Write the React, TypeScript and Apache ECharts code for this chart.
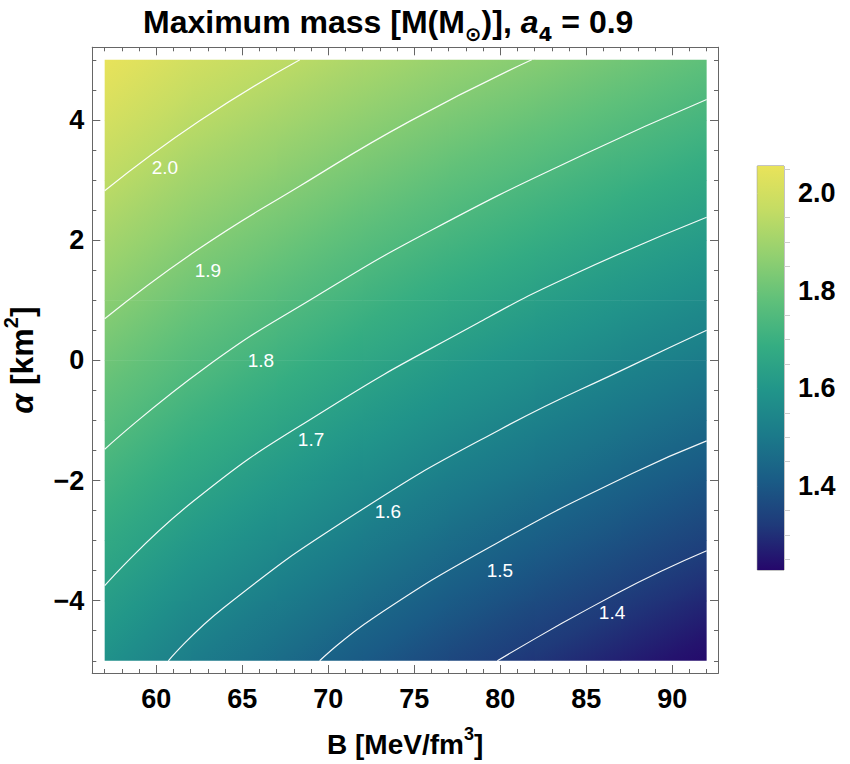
import { useEffect, useRef } from "react";
import * as echarts from "echarts";

// B columns and alpha rows of the mass table
const bColumns = [57, 62, 67, 72, 77, 82, 87, 92];
const alphaRows = [
  5, 4.75, 4.5, 4.25, 4, 3.75, 3.5, 3.25, 3, 2.75, 2.5, 2.25, 2, 1.75, 1.5, 1.25, 1, 0.75, 0.5, 0.25, 0,
  -0.25, -0.5, -0.75, -1, -1.25, -1.5, -1.75, -2, -2.25, -2.5, -2.75, -3, -3.25, -3.5, -3.75, -4, -4.25, -4.5, -4.75, -5,
];
const massB57 = [2.106, 2.094, 2.082, 2.07, 2.058, 2.045, 2.033, 2.021, 2.009, 1.997, 1.985, 1.973, 1.961, 1.95, 1.938, 1.926, 1.915, 1.903, 1.891, 1.88, 1.868, 1.857, 1.845, 1.834, 1.822, 1.811, 1.799, 1.788, 1.777, 1.766, 1.755, 1.744, 1.733, 1.722, 1.711, 1.7, 1.689, 1.678, 1.667, 1.657, 1.646];
const massB62 = [2.049, 2.037, 2.025, 2.014, 2.002, 1.99, 1.978, 1.967, 1.955, 1.943, 1.931, 1.92, 1.908, 1.896, 1.884, 1.873, 1.861, 1.849, 1.838, 1.826, 1.814, 1.802, 1.791, 1.779, 1.767, 1.755, 1.744, 1.732, 1.72, 1.708, 1.697, 1.685, 1.673, 1.661, 1.65, 1.638, 1.626, 1.614, 1.603, 1.591, 1.579];
const massB67 = [2.011, 1.999, 1.987, 1.975, 1.963, 1.951, 1.939, 1.927, 1.914, 1.902, 1.89, 1.878, 1.866, 1.854, 1.842, 1.83, 1.817, 1.805, 1.793, 1.781, 1.769, 1.757, 1.745, 1.733, 1.721, 1.709, 1.696, 1.684, 1.672, 1.66, 1.648, 1.636, 1.624, 1.612, 1.599, 1.587, 1.575, 1.563, 1.551, 1.539, 1.527];
const massB72 = [1.972, 1.96, 1.948, 1.935, 1.923, 1.91, 1.898, 1.886, 1.873, 1.861, 1.848, 1.836, 1.823, 1.811, 1.799, 1.786, 1.774, 1.761, 1.749, 1.736, 1.724, 1.712, 1.699, 1.687, 1.674, 1.662, 1.649, 1.637, 1.625, 1.612, 1.6, 1.587, 1.575, 1.562, 1.55, 1.538, 1.525, 1.513, 1.5, 1.488, 1.475];
const massB77 = [1.936, 1.923, 1.911, 1.898, 1.885, 1.872, 1.86, 1.847, 1.834, 1.821, 1.809, 1.796, 1.783, 1.77, 1.758, 1.745, 1.732, 1.719, 1.707, 1.694, 1.681, 1.668, 1.656, 1.643, 1.63, 1.617, 1.605, 1.592, 1.579, 1.566, 1.554, 1.541, 1.528, 1.515, 1.503, 1.49, 1.477, 1.464, 1.452, 1.439, 1.426];
const massB82 = [1.905, 1.892, 1.879, 1.866, 1.853, 1.84, 1.827, 1.814, 1.8, 1.787, 1.774, 1.761, 1.748, 1.735, 1.722, 1.709, 1.696, 1.683, 1.67, 1.657, 1.644, 1.631, 1.618, 1.605, 1.592, 1.579, 1.566, 1.553, 1.54, 1.527, 1.514, 1.501, 1.488, 1.475, 1.461, 1.448, 1.435, 1.422, 1.409, 1.396, 1.383];
const massB87 = [1.871, 1.858, 1.844, 1.831, 1.818, 1.805, 1.792, 1.778, 1.765, 1.752, 1.739, 1.726, 1.713, 1.699, 1.686, 1.673, 1.66, 1.646, 1.633, 1.62, 1.607, 1.594, 1.581, 1.567, 1.554, 1.541, 1.528, 1.515, 1.501, 1.488, 1.475, 1.462, 1.449, 1.435, 1.422, 1.409, 1.396, 1.383, 1.369, 1.356, 1.343];
const massB92 = [1.835, 1.822, 1.809, 1.796, 1.783, 1.77, 1.757, 1.745, 1.733, 1.72, 1.707, 1.693, 1.68, 1.667, 1.653, 1.64, 1.627, 1.613, 1.6, 1.587, 1.573, 1.56, 1.546, 1.533, 1.519, 1.505, 1.492, 1.478, 1.464, 1.451, 1.437, 1.423, 1.41, 1.396, 1.382, 1.369, 1.355, 1.341, 1.328, 1.314, 1.3];
const massColumns = [massB57, massB62, massB67, massB72, massB77, massB82, massB87, massB92];

// contour polylines as [B, alpha]
const contour20 = [[57, 2.82], [62.5, 3.98], [68.35, 5]];
const contour19 = [[57, 0.69], [62.35, 1.83], [68.35, 2.9], [74.75, 3.98], [81.83, 5]];
const contour18 = [[57, -1.48], [62.9, -0.11], [69.33, 1.07], [76.1, 2.18], [84.83, 3.42], [92, 4.34]];
const contour17 = [[57, -3.75], [62.13, -2.35], [69.68, -0.855], [78.7, 0.62], [84.2, 1.42], [92, 2.38]];
const contour16 = [[60.7, -5], [63.9, -4.12], [71.6, -2.55], [80, -1.15], [87.7, -0.08], [92, 0.5]];
const contour15 = [[69.5, -5], [72.6, -4.29], [80, -3.01], [87.7, -1.88], [92, -1.34]];
const contour14 = [[79.83, -5], [86.77, -3.88], [92, -3.17]];
const contours = [contour20, contour19, contour18, contour17, contour16, contour15, contour14];

// contour labels: [B, alpha, text]
const contourLabels = [
  [60.5, 3.2, "2.0"],
  [63, 1.49, "1.9"],
  [66.08, -0.01, "1.8"],
  [69, -1.31, "1.7"],
  [73.47, -2.51, "1.6"],
  [79.98, -3.5, "1.5"],
  [86.5, -4.2, "1.4"],
];

const xMajor = [60, 65, 70, 75, 80, 85, 90];
const xMinor = [57, 58, 59, 61, 62, 63, 64, 66, 67, 68, 69, 71, 72, 73, 74, 76, 77, 78, 79, 81, 82, 83, 84, 86, 87, 88, 89, 91, 92];
const yMajor = [-4, -2, 0, 2, 4];
const yMinor = [-5, -4.5, -3.5, -3, -2.5, -1.5, -1, -0.5, 0.5, 1, 1.5, 2.5, 3, 3.5, 4.5, 5];
const barMajor = [1.4, 1.6, 1.8, 2.0];
const barMinor = [1.25, 1.3, 1.35, 1.45, 1.5, 1.55, 1.65, 1.7, 1.75, 1.85, 1.9, 1.95, 2.05];

const viridis = ["#25076b", "#1f3a7a", "#1a5c86", "#1b7a8a", "#21958a", "#35ad82", "#5fc07a", "#92d070", "#c3dc64", "#e9e35a"];
const fieldMin = 1.3;
const fieldMax = 2.106;
const font = "'Liberation Sans', Arial, sans-serif";

const colorAt = (v: number) =>
  echarts.color.lerp(Math.min(1, Math.max(0, (v - fieldMin) / (fieldMax - fieldMin))), viridis);

// table cells, every fourth alpha row
const rowStep = 4;
const cells: number[][] = [];
for (let r = 0; r + rowStep < alphaRows.length; r += rowStep) {
  for (let c = 0; c + 1 < bColumns.length; c++) cells.push([c, r]);
}

const tickAxis = (values: number[], len: number, pos: string, range: number[], gridIndex = 0, line = "#666") => ({
  type: "value",
  gridIndex,
  position: pos,
  min: range[0],
  max: range[1],
  axisLine: { show: true, onZero: false, lineStyle: { color: "#666", width: 1 } },
  axisTick: { show: true, inside: true, length: len, customValues: values, lineStyle: { color: line, width: 1 } },
  axisLabel: { show: false },
  splitLine: { show: false },
  minorTick: { show: false },
});

export default function App() {
  const ref = useRef<HTMLDivElement>(null);

  useEffect(() => {
    if (!ref.current) return;
    const chart = echarts.init(ref.current, null, { renderer: "svg" });

    const xRange = [56.28, 92.66];
    const yRange = [-5.203, 5.208];
    const barRange = [1.228, 2.056];
    const labelStyle = { fontFamily: font, fontWeight: "bold", fontSize: 27, color: "#000" };

    const xLabels = tickAxis(xMajor, 8, "bottom", xRange) as any;
    xLabels.axisLabel = { ...labelStyle, show: true, margin: 12, customValues: xMajor };
    xLabels.name = "{a|B [MeV/fm}{s|3}{a|]}";
    xLabels.nameLocation = "middle";
    xLabels.nameGap = 52;
    xLabels.nameTextStyle = {
      rich: {
        a: { fontFamily: font, fontWeight: "bold", fontSize: 28, lineHeight: 38, color: "#000" },
        s: { fontFamily: font, fontWeight: "bold", fontSize: 18, lineHeight: 38, verticalAlign: "top", color: "#000" },
      },
    };

    const yLabels = tickAxis(yMajor, 8, "left", yRange) as any;
    yLabels.axisLabel = {
      ...labelStyle,
      show: true,
      margin: 8,
      customValues: yMajor,
      formatter: (v: number) => String(v).replace("-", "\u2212"),
    };
    yLabels.name = "{i|\u03b1 }{a|[km}{s|2}{a|]}";
    yLabels.nameLocation = "middle";
    yLabels.nameRotate = 90;
    yLabels.nameGap = 49;
    yLabels.nameTextStyle = {
      rich: {
        a: { fontFamily: font, fontWeight: "bold", fontSize: 32, lineHeight: 42, color: "#000" },
        i: { fontFamily: font, fontWeight: "bold", fontStyle: "italic", fontSize: 32, lineHeight: 42, color: "#000" },
        s: { fontFamily: font, fontWeight: "bold", fontSize: 20, lineHeight: 42, verticalAlign: "top", color: "#000" },
      },
    };

    const barMajorAxis = tickAxis(barMajor, 9, "right", barRange, 1, "#ccc") as any;
    barMajorAxis.axisLine = { show: false };
    barMajorAxis.axisTick.inside = false;
    barMajorAxis.axisLabel = {
      ...labelStyle,
      show: true,
      margin: 14,
      customValues: barMajor,
      formatter: (v: number) => v.toFixed(1),
    };
    const barMinorAxis = tickAxis(barMinor, 6, "right", barRange, 1, "#ccc") as any;
    barMinorAxis.axisLine = { show: false };
    barMinorAxis.axisTick.inside = false;

    chart.setOption({
      animation: false,
      title: {
        left: 138,
        top: -5,
        text: "{a|Maximum mass [M(M}{s|\u2299}{a|)], }{i|a}{s|4}{a| = 0.9}",
        textStyle: {
          rich: {
            a: { fontFamily: font, fontWeight: "bold", fontSize: 32, lineHeight: 44, color: "#000" },
            i: { fontFamily: font, fontWeight: "bold", fontStyle: "italic", fontSize: 32, lineHeight: 44, color: "#000" },
            s: { fontFamily: "'DejaVu Sans', " + font, fontWeight: "bold", fontSize: 20, lineHeight: 44, verticalAlign: "bottom", color: "#000" },
          },
        },
      },
      grid: [
        { left: 92.3, top: 47.3, width: 625.7, height: 625.7, show: false, outerBoundsMode: "none" },
        { left: 757.3, top: 166, width: 26.7, height: 404, show: true, borderColor: "#888", borderWidth: 1, backgroundColor: "transparent", outerBoundsMode: "none" },
      ],
      xAxis: [
        xLabels,
        tickAxis(xMinor, 4, "bottom", xRange),
        tickAxis(xMajor, 8, "top", xRange),
        tickAxis(xMinor, 4, "top", xRange),
        { type: "value", gridIndex: 1, min: 0, max: 1, show: false },
      ],
      yAxis: [
        yLabels,
        tickAxis(yMinor, 4, "left", yRange),
        tickAxis(yMajor, 8, "right", yRange),
        tickAxis(yMinor, 4, "right", yRange),
        barMajorAxis,
        barMinorAxis,
      ],
      series: [
        {
          // the mass changes almost as a plane inside a cell, so one straight gradient fills it
          type: "custom",
          xAxisIndex: 0,
          yAxisIndex: 0,
          silent: true,
          data: cells,
          encode: { x: -1, y: -1 },
          renderItem: (params: any, api: any) => {
            const c = api.value(0);
            const r = api.value(1);
            const tl = api.coord([bColumns[c], alphaRows[r]]);
            const br = api.coord([bColumns[c + 1], alphaRows[r + rowStep]]);
            const w = br[0] - tl[0];
            const h = br[1] - tl[1];
            const a = massColumns[c][r];
            const b = massColumns[c + 1][r];
            const d = massColumns[c][r + rowStep];
            const e = massColumns[c + 1][r + rowStep];
            const gx = (b + e - a - d) / 2 / w;
            const gy = (d + e - a - b) / 2 / h;
            const g = Math.hypot(gx, gy);
            const cx = tl[0] + w / 2;
            const cy = tl[1] + h / 2;
            const mid = (a + b + d + e) / 4;
            const half = Math.hypot(w, h) / 2 + 2;
            const ux = (gx / g) * half;
            const uy = (gy / g) * half;
            return {
              type: "rect",
              shape: { x: tl[0], y: tl[1], width: w + (c < bColumns.length - 2 ? 0.5 : 0), height: h + (r + rowStep + 1 < alphaRows.length ? 0.5 : 0) },
              style: {
                fill: new echarts.graphic.LinearGradient(
                  cx - ux,
                  cy - uy,
                  cx + ux,
                  cy + uy,
                  [
                    { offset: 0, color: colorAt(mid - g * half) },
                    { offset: 0.25, color: colorAt(mid - g * half * 0.5) },
                    { offset: 0.5, color: colorAt(mid) },
                    { offset: 0.75, color: colorAt(mid + g * half * 0.5) },
                    { offset: 1, color: colorAt(mid + g * half) },
                  ],
                  true,
                ),
              },
            };
          },
        },
        ...contours.map((points) => ({
          type: "line",
          xAxisIndex: 0,
          yAxisIndex: 0,
          silent: true,
          data: points,
          smooth: true,
          symbol: "none",
          lineStyle: { color: "#fff", width: 1.2, opacity: 0.95 },
        })),
        {
          type: "scatter",
          xAxisIndex: 0,
          yAxisIndex: 0,
          silent: true,
          symbolSize: 0,
          itemStyle: { opacity: 1 },
          data: contourLabels,
          label: {
            show: true,
            position: "inside",
            formatter: (p: any) => p.value[2],
            fontFamily: font,
            fontSize: 19,
            color: "#fff",
            opacity: 1,
          },
        },
        {
          type: "custom",
          xAxisIndex: 4,
          yAxisIndex: 4,
          silent: true,
          data: [[0, 1.228]],
          encode: { x: 0, y: 1 },
          renderItem: (params: any, api: any) => {
            const tl = api.coord([0, barRange[1]]);
            const br = api.coord([1, barRange[0]]);
            return {
              type: "rect",
              shape: { x: tl[0], y: tl[1], width: br[0] - tl[0], height: br[1] - tl[1] },
              style: {
                fill: new echarts.graphic.LinearGradient(
                  0,
                  1,
                  0,
                  0,
                  viridis.map((c, i) => ({ offset: i / (viridis.length - 1), color: c })),
                ),
              },
            };
          },
        },
      ],
    });

    return () => {
      chart.dispose();
    };
  }, []);

  return <div ref={ref} style={{ position: "absolute", left: 0, top: 0, width: 850, height: 764, background: "#fff" }} />;
}
